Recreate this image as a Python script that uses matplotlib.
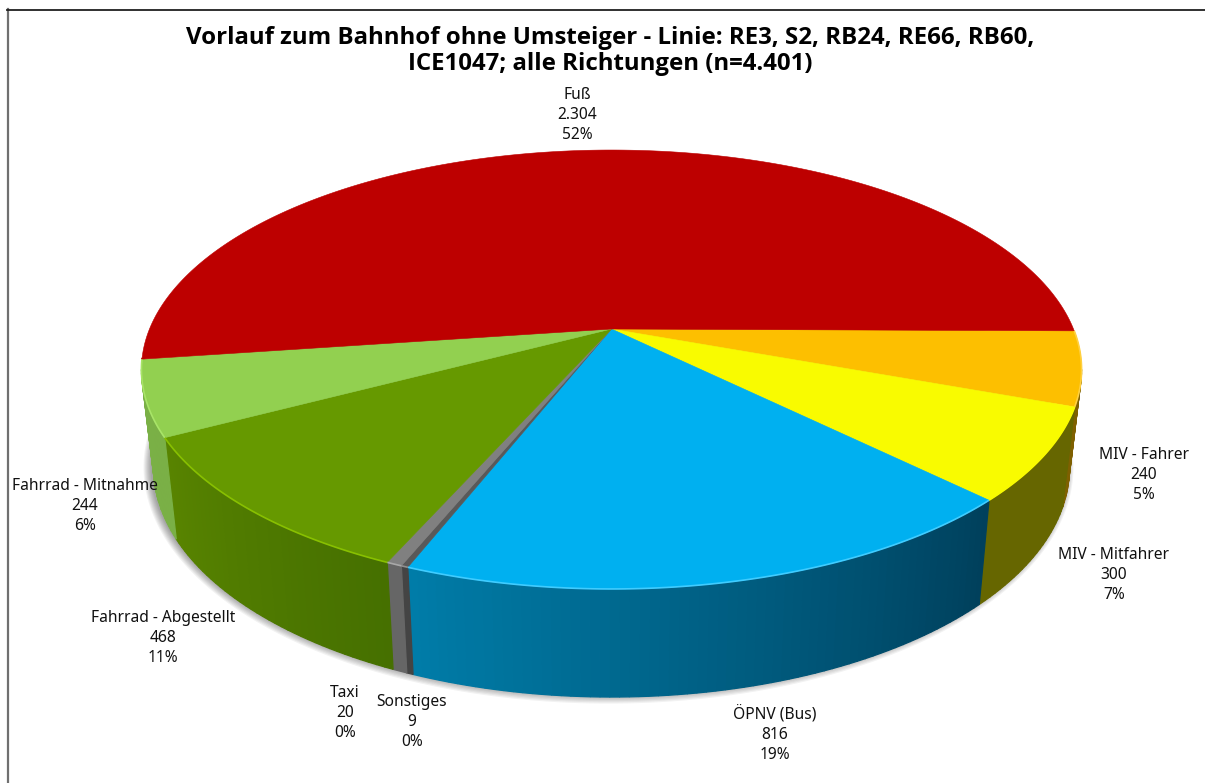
import numpy as np
import matplotlib
matplotlib.use("Agg")
import matplotlib.pyplot as plt
from matplotlib.colors import to_rgb

# ---- data (clockwise from the right-hand side of the pie) ----
categories = ["MIV - Fahrer", "MIV - Mitfahrer", "ÖPNV (Bus)", "Sonstiges", "Taxi",
              "Fahrrad - Abgestellt", "Fahrrad - Mitnahme", "Fuß"]
values = [240, 300, 816, 9, 20, 468, 244, 2304]
title_lines = ["Vorlauf zum Bahnhof ohne Umsteiger - Linie: RE3, S2, RB24, RE66, RB60,",
               "ICE1047; alle Richtungen (n=4.401)"]

# ---- styles ----
top_colors = ["#FDBF00", "#F9FB00", "#00B0F0", "#595959", "#808080", "#669900", "#92D050", "#BD0000"]
rim_colors = ["#FFD040", "#F9FB00", "#40CCFF", "#909090", "#A8A8A8", "#88C000", "#A8E468", "#BD0000"]
side_start = ["#7F6000", "#666600", "#00405C", "#444444", "#666666", "#467000", "#7AB046", "#600000"]
side_end = ["#7F6000", "#666600", "#007CA8", "#444444", "#666666", "#588400", "#7AB046", "#600000"]
label_xy = [(1144, 475), (1114, 575), (775, 734), (412, 722), (345, 713),
            (163, 638), (85, 506), (577, 115)]

W, H = 1205, 783
fig = plt.figure(figsize=(W / 100, H / 100), dpi=100, facecolor="white")
ax = fig.add_axes([0, 0, 1, 1])
ax.set_xlim(0, W)
ax.set_ylim(H, 0)
ax.axis("off")

# ---- perspective projection of the pie's disc ----
CX = 611.5
K = 0.1845
TOP = dict(a=462.0, b=212.0, c=329.0)
BOT = dict(a=450.0, b=221.2, c=425.8)
START = 0.5


def project(theta_deg, p, grow=0.0):
    t = np.radians(theta_deg)
    x, y = np.cos(t), np.sin(t)
    w = 1 - K * y
    return CX + (p["a"] + grow) * x / w, p["c"] + (p["b"] + grow) * y / w


total = sum(values)
edges = START + 360 * np.concatenate([[0], np.cumsum(values)]) / total
limit = np.degrees(np.arcsin(K))
vis_lo, vis_hi = limit, 180 - limit

# soft shadow under the body
full = np.linspace(0, 360, 361)
for g in range(7, -1, -1):
    sx, sy = project(full, BOT, grow=g)
    ax.fill(sx - 3, sy - 2, color="black", alpha=0.05, lw=0, zorder=1)

# side wall
for i in range(len(values)):
    lo, hi = max(edges[i], vis_lo), min(edges[i + 1], vis_hi)
    if hi <= lo:
        continue
    n = max(2, int((hi - lo)) + 1)
    ts = np.linspace(lo, hi, n)
    c0, c1 = np.array(to_rgb(side_start[i])), np.array(to_rgb(side_end[i]))
    for j in range(n - 1):
        f = j / max(1, n - 2)
        col = c0 + (c1 - c0) * f
        t = np.array([ts[j], ts[j + 1]])
        xt, yt = project(t, TOP)
        xb, yb = project(t, BOT)
        ax.fill(np.r_[xt, xb[::-1]], np.r_[yt, yb[::-1]], color=col, lw=0.9, zorder=2)

# top face
for i in range(len(values)):
    t = np.linspace(edges[i], edges[i + 1], max(3, int(edges[i + 1] - edges[i]) * 2))
    x, y = project(t, TOP)
    ax.fill(np.r_[CX, x], np.r_[TOP["c"], y], color=top_colors[i], lw=0.4, zorder=3)

# light rim on the visible front edge
for i in range(len(values)):
    lo, hi = max(edges[i], vis_lo - 12), min(edges[i + 1], vis_hi + 3)
    if hi <= lo:
        continue
    x, y = project(np.linspace(lo, hi, 80), TOP)
    ax.plot(x, y, color=rim_colors[i], lw=1.2, zorder=4, solid_capstyle="butt")

# ---- labels ----
for name, v, (lx, ly) in zip(categories, values, label_xy):
    txt = f"{name}\n{v:,}\n{round(100 * v / total):d}%".replace(",", ".")
    ax.text(lx, ly, txt, ha="center", va="center", fontsize=11.2, family="Noto Sans",
            color="#111111", linespacing=1.32, zorder=6)

ax.text(610.5, 51, "\n".join(title_lines), ha="center", va="center", fontsize=17.3, fontweight="bold",
        family="Open Sans", color="black", linespacing=1.16, zorder=6)

# ---- chart frame ----
ax.plot([7.5, 7.5], [9, H], color="#707070", lw=1.6, zorder=7, clip_on=False)
ax.plot([7, W], [9.5, 9.5], color="#202020", lw=1.3, zorder=7, clip_on=False)

fig.savefig("out.png", dpi=100, facecolor="white")
